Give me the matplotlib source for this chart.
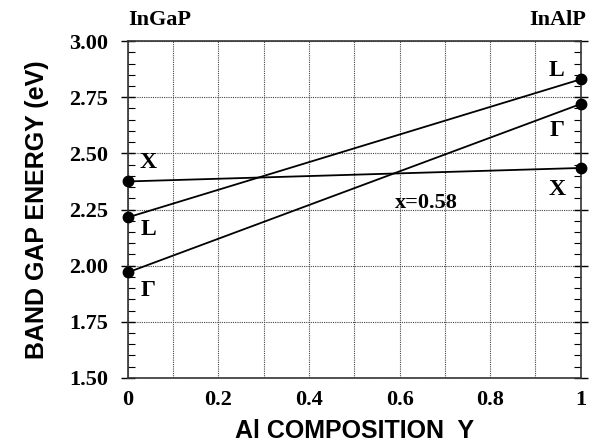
import matplotlib
matplotlib.use("Agg")
import matplotlib.pyplot as plt
import numpy as np
from matplotlib.ticker import MultipleLocator

# Data
comp = [0.0, 1.0]
band_X = [2.375, 2.435]
band_L = [2.215, 2.83]
band_G = [1.97, 2.72]
xticks = [0, 0.2, 0.4, 0.6, 0.8, 1]
xticklabels = ["0", "0.2", "0.4", "0.6", "0.8", "1"]
yticks = [1.50, 1.75, 2.00, 2.25, 2.50, 2.75, 3.00]

serif = "Liberation Serif"
sans = "Liberation Sans"

fig = plt.figure(figsize=(5.92, 4.42), dpi=100)
ax = fig.add_axes([0.216, 0.145, 0.765, 0.762])

for ys in (band_X, band_L, band_G):
    ax.plot(comp, ys, color="black", lw=1.3, marker="o", ms=7.5, clip_on=False, zorder=5)

ax.set_xlim(0, 1)
ax.set_ylim(1.5, 3.0)
ax.set_xticks(xticks)
ax.set_xticklabels(xticklabels, fontfamily=serif, fontweight="bold", fontsize=16)
ax.set_yticks(yticks)
ax.set_yticklabels([f"{v:.2f}" for v in yticks], fontfamily=serif, fontweight="bold", fontsize=16)
ax.yaxis.set_minor_locator(MultipleLocator(0.05))
ax.xaxis.set_minor_locator(MultipleLocator(0.1))

ax.tick_params(axis="y", which="major", direction="inout", length=10, width=1, right=True, pad=9)
ax.tick_params(axis="y", which="minor", direction="in", length=5, width=0.8, right=True)
ax.tick_params(axis="x", which="both", length=0, pad=9)

ax.grid(True, which="major", axis="y", linestyle=(0, (1, 1)), color="#444444", lw=0.8)
ax.grid(True, which="both", axis="x", linestyle=(0, (1, 1)), color="#444444", lw=0.8)

for s in ax.spines.values():
    s.set_linewidth(1.2)
    s.set_color("#333333")

ax.set_xlabel("Al COMPOSITION  Y", fontfamily=sans, fontweight="bold", fontsize=18, labelpad=6)
ax.set_ylabel("BAND GAP ENERGY (eV)", fontfamily=sans, fontweight="bold", fontsize=18, labelpad=15)

tk = dict(fontfamily=serif, fontweight="bold", fontsize=17, ha="center", va="center")
ax.text(0.045, 2.46, "X", **tk)
ax.text(0.045, 2.16, "L", **tk)
ax.text(0.045, 1.89, "Γ", **tk)
ax.text(0.947, 2.87, "L", **tk)
ax.text(0.947, 2.60, "Γ", **tk)
ax.text(0.947, 2.34, "X", **tk)
ax.text(0.658, 2.28, "x=0.58", fontfamily=serif, fontweight="bold", fontsize=16, ha="center", va="center")

ax.text(0.07, 3.093, "InGaP", fontfamily=serif, fontweight="bold", fontsize=16, ha="center", va="center", clip_on=False)
ax.text(0.95, 3.093, "InAlP", fontfamily=serif, fontweight="bold", fontsize=16, ha="center", va="center", clip_on=False)

fig.savefig("out.png", dpi=100)
